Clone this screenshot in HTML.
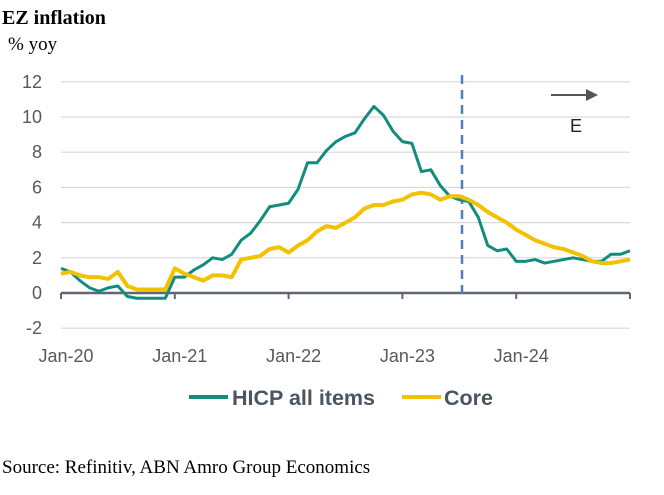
<!DOCTYPE html>
<html><head><meta charset="utf-8"><style>
body{margin:0;background:#fff;width:664px;height:490px;overflow:hidden}
svg text{font-family:"Liberation Sans",sans-serif}
</style></head><body>
<svg width="664" height="490">
<text x="2" y="24" style="font-family:'Liberation Serif',serif;font-weight:bold;font-size:20px" fill="#000">EZ inflation</text>
<text x="8" y="50" style="font-family:'Liberation Serif',serif;font-size:19px" fill="#000">% yoy</text>
<g id="grid"></g>
<g id="axis"></g>
<line x1="462" y1="75" x2="462" y2="298" stroke="#4f7fbf" stroke-width="2.5" stroke-dasharray="9,6"/>
<line x1="551" y1="95" x2="588" y2="95" stroke="#555" stroke-width="2"/>
<polygon points="586,89 598,95 586,101" fill="#555"/>
<text x="570" y="132" font-size="18" fill="#222">E</text>
<g id="series"></g>
<line x1="189" y1="397" x2="228" y2="397" stroke="#128c7e" stroke-width="4"/>
<text x="232" y="405" font-size="21.5" font-weight="bold" fill="#4a5560">HICP all items</text>
<line x1="402" y1="397" x2="441" y2="397" stroke="#f2c200" stroke-width="4"/>
<text x="444" y="405" font-size="21.5" font-weight="bold" fill="#4a5560">Core</text>
<text x="2" y="473" style="font-family:'Liberation Serif',serif;font-size:19px" fill="#000">Source: Refinitiv, ABN Amro Group Economics</text>
</svg>
<script>
const yTicks=[12,10,8,6,4,2,0,-2];
const xLabels=["Jan-20","Jan-21","Jan-22","Jan-23","Jan-24"];
const hicp=[1.4,1.2,0.7,0.3,0.1,0.3,0.4,-0.2,-0.3,-0.3,-0.3,-0.3,
0.9,0.9,1.3,1.6,2.0,1.9,2.2,3.0,3.4,4.1,4.9,5.0,
5.1,5.9,7.4,7.4,8.1,8.6,8.9,9.1,9.9,10.6,10.1,9.2,
8.6,8.5,6.9,7.0,6.1,5.5,5.3,5.2,4.3,2.7,2.4,2.5,
1.8,1.8,1.9,1.7,1.8,1.9,2.0,1.9,1.8,1.8,2.2,2.2,2.4];
const core=[1.1,1.2,1.0,0.9,0.9,0.8,1.2,0.4,0.2,0.2,0.2,0.2,
1.4,1.1,0.9,0.7,1.0,1.0,0.9,1.9,2.0,2.1,2.5,2.6,
2.3,2.7,3.0,3.5,3.8,3.7,4.0,4.3,4.8,5.0,5.0,5.2,
5.3,5.6,5.7,5.6,5.3,5.5,5.5,5.3,5.0,4.6,4.3,4.0,
3.6,3.3,3.0,2.8,2.6,2.5,2.3,2.1,1.8,1.7,1.7,1.8,1.9];
const NS="http://www.w3.org/2000/svg";
const X=m=>61+m*(569/60);
const Y=v=>293-v*17.6;
const grid=document.getElementById('grid'),axis=document.getElementById('axis'),ser=document.getElementById('series');
function mk(tag,attrs,parent){const e=document.createElementNS(NS,tag);for(const k in attrs)e.setAttribute(k,attrs[k]);parent.appendChild(e);return e;}
yTicks.forEach(v=>{
 if(v!==0){const l=mk('line',{x1:61,x2:630,y1:Y(v),y2:Y(v),stroke:'#d9d9d9','stroke-width':1.2},grid);
 
 }
 const t=mk('text',{x:42,y:Y(v)+6,'text-anchor':'end','font-size':18,fill:'#595959'},grid);
 t.textContent=v;
 
 
});
const ax=mk('line',{x1:61,x2:630,y1:Y(0),y2:Y(0),stroke:'#5f6770','stroke-width':2.5},axis);


for(let i=0;i<=5;i++){const tk=mk('line',{x1:X(i*12),x2:X(i*12),y1:Y(0),y2:Y(0)+6,stroke:'#5f6770','stroke-width':2},axis);
 
 }
xLabels.forEach((s,i)=>{const t=mk('text',{x:X(i*12)+5,y:362,'text-anchor':'middle','font-size':18,fill:'#595959'},axis);
 t.textContent=s;
 
 });
function line(arr,col,w,name){const p=mk('polyline',{points:arr.map((v,i)=>X(i)+','+Y(v)).join(' '),fill:'none',stroke:col,'stroke-width':w,'stroke-linejoin':'round'},ser);
 
 }
line(hicp,'#128c7e',3,'hicp-line');
line(core,'#f2c200',4,'core-line');
</script>
</body></html>
